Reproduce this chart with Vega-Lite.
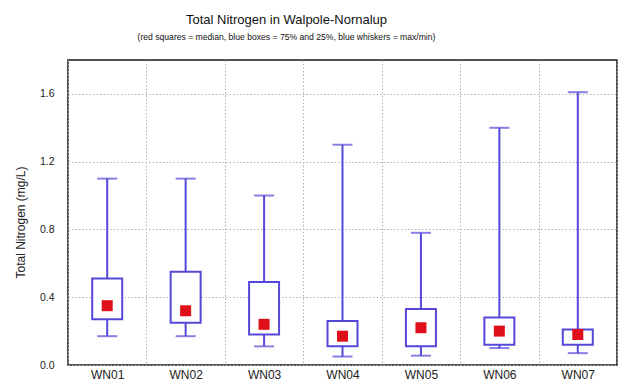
{
  "$schema": "https://vega.github.io/schema/vega-lite/v6.json",
  "autosize": {"type": "none"},
  "padding": {"left": 68, "top": 60, "right": 1, "bottom": 21},
  "width": 549,
  "height": 305,
  "background": "white",
  "title": {
    "text": "Total Nitrogen in Walpole-Nornalup",
    "subtitle": "(red squares = median, blue boxes = 75% and 25%, blue whiskers = max/min)",
    "anchor": "middle",
    "dx": -56,
    "font": "Liberation Sans",
    "fontSize": 13,
    "fontWeight": "normal",
    "color": "#111",
    "subtitleFont": "Liberation Sans",
    "subtitleFontSize": 8.6,
    "subtitleColor": "#111",
    "subtitlePadding": 6,
    "offset": 18
  },
  "config": {
    "view": {"stroke": "#1a1a1a", "strokeWidth": 1.5},
    "axis": {
      "labelFont": "Liberation Sans",
      "titleFont": "Liberation Sans",
      "labelColor": "#222",
      "titleColor": "#222",
      "domain": false,
      "ticks": false,
      "gridColor": "#b0b0b0",
      "gridDash": [1.5, 2],
      "gridWidth": 1
    }
  },
  "data": {
    "values": [
      {"site": "WN01", "min": 0.17, "q1": 0.27, "median": 0.35, "q3": 0.51, "max": 1.1},
      {"site": "WN02", "min": 0.17, "q1": 0.25, "median": 0.32, "q3": 0.55, "max": 1.1},
      {"site": "WN03", "min": 0.11, "q1": 0.18, "median": 0.24, "q3": 0.49, "max": 1.0},
      {"site": "WN04", "min": 0.05, "q1": 0.11, "median": 0.17, "q3": 0.26, "max": 1.3},
      {"site": "WN05", "min": 0.055, "q1": 0.11, "median": 0.22, "q3": 0.33, "max": 0.78},
      {"site": "WN06", "min": 0.1, "q1": 0.12, "median": 0.2, "q3": 0.28, "max": 1.4},
      {"site": "WN07", "min": 0.07, "q1": 0.12, "median": 0.18, "q3": 0.21, "max": 1.61}
    ]
  },
  "encoding": {
    "x": {
      "field": "site",
      "type": "nominal",
      "scale": {"paddingInner": 0, "paddingOuter": 0},
      "axis": {
        "title": null,
        "labelAngle": 0,
        "labelFontSize": 12,
        "labelPadding": 4,
        "tickBand": "extent",
        "grid": true
      }
    }
  },
  "layer": [
    {
      "mark": {"type": "rule", "color": "#5548d9", "strokeWidth": 2},
      "encoding": {
        "y": {
          "field": "min",
          "type": "quantitative",
          "scale": {"domain": [0, 1.8], "nice": false, "zero": true},
          "axis": {
            "title": "Total Nitrogen (mg/L)",
            "titleFontSize": 12,
            "titleFontWeight": "normal",
            "titleX": -41,
            "titleY": 162,
            "values": [0, 0.4, 0.8, 1.2, 1.6],
            "format": ".1f",
            "labelFontSize": 10.5,
            "labelPadding": 14,
            "grid": true
          }
        },
        "y2": {"field": "max"}
      }
    },
    {
      "mark": {"type": "tick", "color": "#5548d9", "thickness": 2, "size": 20, "orient": "horizontal"},
      "encoding": {"y": {"field": "max", "type": "quantitative"}}
    },
    {
      "mark": {"type": "tick", "color": "#5548d9", "thickness": 2, "size": 20, "orient": "horizontal"},
      "encoding": {"y": {"field": "min", "type": "quantitative"}}
    },
    {
      "mark": {"type": "bar", "fill": "white", "stroke": "#5548d9", "strokeWidth": 2, "size": 30},
      "encoding": {
        "y": {"field": "q1", "type": "quantitative"},
        "y2": {"field": "q3"}
      }
    },
    {
      "mark": {"type": "square", "filled": true, "color": "#e0101a", "size": 121, "opacity": 1},
      "encoding": {"y": {"field": "median", "type": "quantitative"}}
    }
  ]
}
